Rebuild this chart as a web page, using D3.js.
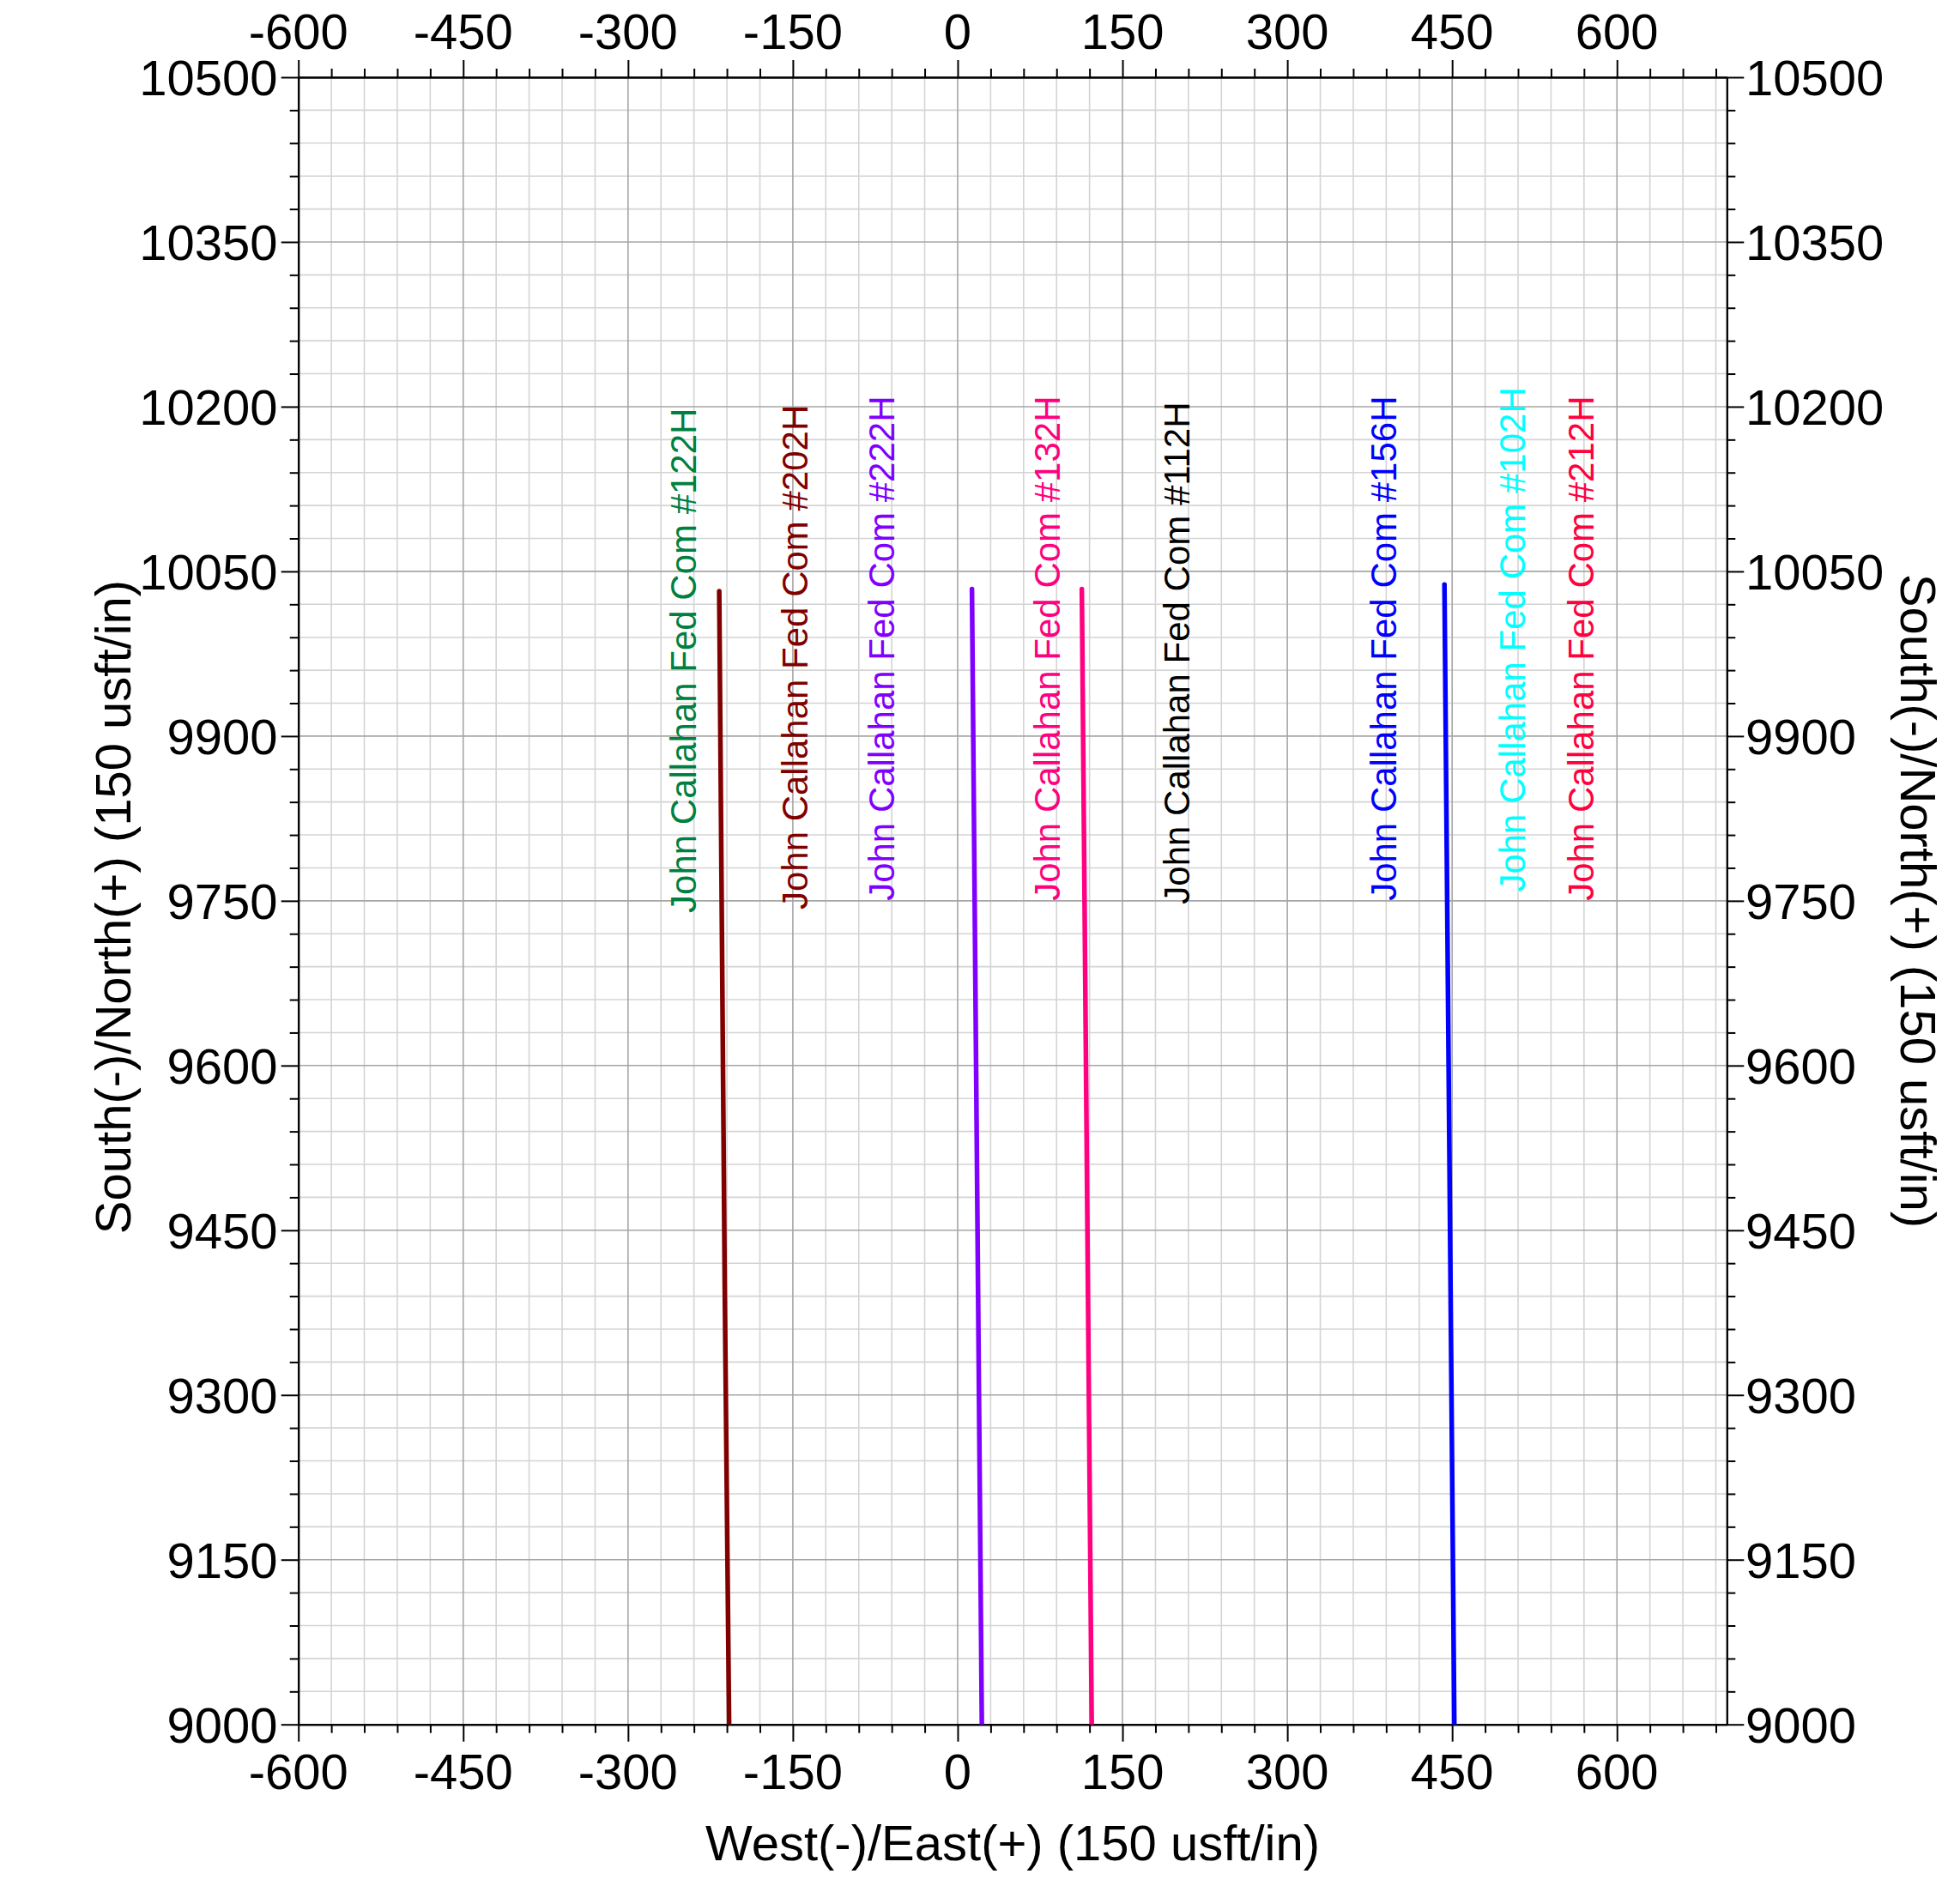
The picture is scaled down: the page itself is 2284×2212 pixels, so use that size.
<!DOCTYPE html>
<html>
<head>
<meta charset="utf-8">
<script src="https://cdn.jsdelivr.net/npm/d3@7"></script>
<style>
  html, body { margin: 0; padding: 0; background: #fff; }
  svg { display: block; }
  text { font-family: "Liberation Sans", Arial, Helvetica, sans-serif; }
</style>
</head>
<body>
<svg id="chart" width="2284" height="2212"></svg>
<script>
// ---- Data ----
const xTicks = [-600, -450, -300, -150, 0, 150, 300, 450, 600];
const yTicks = [9000, 9150, 9300, 9450, 9600, 9750, 9900, 10050, 10200, 10350, 10500];
const xDomain = [-600, 700];
const yDomain = [9000, 10500];
const minorStep = 30;

const xTitle = "West(-)/East(+) (150 usft/in)";
const yTitle = "South(-)/North(+) (150 usft/in)";

// well trajectories [East/West, North/South]
const well202H = [[-217, 10032], [-212, 9400], [-208, 9000]];
const well222H = [[13, 10034], [22, 9000]];
const well132H = [[113, 10034], [122, 9000]];
const well156H = [[443, 10038], [452, 9000]];
const wellLines = [well202H, well222H, well132H, well156H];
const wellLineColors = ["#800000", "#8000ff", "#ff0080", "#0000ff"];

// well labels
const labelNames = [
  "John Callahan Fed Com #122H",
  "John Callahan Fed Com #202H",
  "John Callahan Fed Com #222H",
  "John Callahan Fed Com #132H",
  "John Callahan Fed Com #112H",
  "John Callahan Fed Com #156H",
  "John Callahan Fed Com #102H",
  "John Callahan Fed Com #212H"
];
const labelColors = ["#008040", "#800000", "#8000ff", "#ff0080", "#000000", "#0000ff", "#00ffff", "#ff0040"];
const labelX = [-238, -137, -58, 93, 211, 399, 516, 579];
const labelY = [9739, 9742, 9750, 9750, 9747, 9750, 9758, 9750];

// ---- Layout ----
(function () {
const svg = d3.select("#chart");
const pL = 347.7, pR = 2012.3, pT = 90, pB = 2009.7;
const x = d3.scaleLinear().domain(xDomain).range([pL, pR]);
const y = d3.scaleLinear().domain(yDomain).range([pB, pT]);

const minorX = d3.range(xDomain[0], xDomain[1] + 0.001, minorStep).filter(v => !xTicks.includes(v));
const minorY = d3.range(yDomain[0], yDomain[1] + 0.001, minorStep).filter(v => !yTicks.includes(v));

// grid
const grid = svg.append("g");
grid.append("g").selectAll("line").data(minorX).join("line")
  .attr("x1", d => x(d)).attr("x2", d => x(d)).attr("y1", pT).attr("y2", pB)
  .attr("stroke", "#d4d4d4").attr("stroke-width", 1.6);
grid.append("g").selectAll("line").data(minorY).join("line")
  .attr("y1", d => y(d)).attr("y2", d => y(d)).attr("x1", pL).attr("x2", pR)
  .attr("stroke", "#d4d4d4").attr("stroke-width", 1.6);
grid.append("g").selectAll("line").data(xTicks).join("line")
  .attr("x1", d => x(d)).attr("x2", d => x(d)).attr("y1", pT).attr("y2", pB)
  .attr("stroke", "#a6a6a6").attr("stroke-width", 1.6);
grid.append("g").selectAll("line").data(yTicks).join("line")
  .attr("y1", d => y(d)).attr("y2", d => y(d)).attr("x1", pL).attr("x2", pR)
  .attr("stroke", "#a6a6a6").attr("stroke-width", 1.6);

// axes (ticks) via d3 axis
function addAxis(gen, transform, vals, size) {
  const g = svg.append("g").attr("transform", transform)
    .call(gen.tickValues(vals).tickSize(size).tickSizeOuter(0).tickFormat(""));
  g.selectAll("path, line").attr("stroke", "#000").attr("stroke-width", 2);
  g.selectAll("text").remove();
  return g;
}
addAxis(d3.axisBottom(x), `translate(0,${pB})`, minorX, 10);
addAxis(d3.axisBottom(x), `translate(0,${pB})`, xTicks, 20);
addAxis(d3.axisTop(x), `translate(0,${pT})`, minorX, 10);
addAxis(d3.axisTop(x), `translate(0,${pT})`, xTicks, 20);
addAxis(d3.axisLeft(y), `translate(${pL},0)`, minorY, 10);
addAxis(d3.axisLeft(y), `translate(${pL},0)`, yTicks, 20);
addAxis(d3.axisRight(y), `translate(${pR},0)`, minorY, 10);
addAxis(d3.axisRight(y), `translate(${pR},0)`, yTicks, 20);

// tick labels
const fs = 58;
const tl = svg.append("g").attr("font-size", fs).attr("fill", "#000");
tl.append("g").selectAll("text").data(xTicks).join("text")
  .attr("x", d => x(d)).attr("y", 2085).attr("text-anchor", "middle").text(d => d);
tl.append("g").selectAll("text").data(xTicks).join("text")
  .attr("x", d => x(d)).attr("y", 57).attr("text-anchor", "middle").text(d => d);
tl.append("g").selectAll("text").data(yTicks).join("text")
  .attr("x", 323.5).attr("y", d => y(d) + 20.8).attr("text-anchor", "end").text(d => d);
tl.append("g").selectAll("text").data(yTicks).join("text")
  .attr("x", 2034).attr("y", d => y(d) + 20.8).attr("text-anchor", "start").text(d => d);

// axis titles
svg.append("text").attr("font-size", fs).attr("x", (pL + pR) / 2).attr("y", 2168)
  .attr("text-anchor", "middle").text(xTitle);
svg.append("text").attr("font-size", fs).attr("text-anchor", "middle")
  .attr("transform", "translate(151.7,1057) rotate(-90)").text(yTitle);
svg.append("text").attr("font-size", fs).attr("text-anchor", "middle")
  .attr("transform", "translate(2215,1050) rotate(90)").text(yTitle);

// well lines (clipped to plot area)
svg.append("clipPath").attr("id", "plotclip").append("rect")
  .attr("x", pL).attr("y", pT).attr("width", pR - pL).attr("height", pB - pT);
const line = d3.line().x(d => x(d[0])).y(d => y(d[1]));
svg.append("g").attr("clip-path", "url(#plotclip)")
  .selectAll("path").data(wellLines).join("path")
  .attr("d", line).attr("fill", "none")
  .attr("stroke", (d, i) => wellLineColors[i])
  .attr("stroke-width", 5.5).attr("stroke-linecap", "round");

// well labels
svg.append("g").attr("font-size", 42)
  .selectAll("text").data(labelNames).join("text")
  .attr("transform", (d, i) => `translate(${x(labelX[i])},${y(labelY[i])}) rotate(-90)`)
  .attr("fill", (d, i) => labelColors[i])
  .text(d => d);
})();
</script>
</body>
</html>
